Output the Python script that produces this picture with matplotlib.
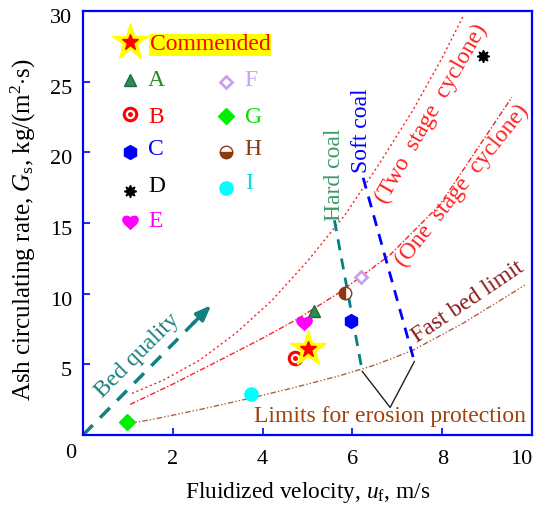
import numpy as np
import matplotlib
matplotlib.use('Agg')
import matplotlib.pyplot as plt
from matplotlib.path import Path
from matplotlib.transforms import ScaledTranslation

plt.rcParams['font.family'] = ['Liberation Serif', 'DejaVu Serif']
plt.rcParams['mathtext.fontset'] = 'custom'
plt.rcParams['mathtext.rm'] = 'Liberation Serif'
plt.rcParams['mathtext.it'] = 'Liberation Serif:italic'

# Operating points (fluidized velocity, m/s ; ash circulating rate, kg/(m2 s))
commended = (5.0, 6.1)
pts_names = ['A', 'B', 'C', 'D', 'E', 'F', 'G', 'H', 'I']
pts_x = [5.15, 4.72, 5.97, 8.91, 4.92, 6.19, 0.98, 5.84, 3.74]
pts_y = [8.8, 5.45, 8.05, 26.8, 7.9, 11.17, 0.95, 10.03, 2.87]

# Boundary curves
two_x = [1.09, 1.8, 2.6, 3.4, 4.2, 5.0, 5.84, 6.6, 7.35, 8.0, 8.46]
two_y = [2.94, 3.9, 5.3, 7.2, 9.5, 12.3, 15.6, 19.2, 23.0, 26.7, 29.6]
one_x = [1.05, 2.0, 3.05, 4.0, 4.77, 5.72, 6.84, 7.95, 9.55]
one_y = [2.16, 3.6, 5.3, 6.85, 8.2, 10.1, 12.75, 16.3, 23.9]
fast_x = [1.0, 1.54, 2.6, 3.72, 4.7, 5.72, 6.5, 7.35, 8.46, 9.84]
fast_y = [0.8, 1.1, 1.8, 2.6, 3.35, 4.2, 4.95, 6.0, 7.9, 10.6]
hard_x = [5.6, 6.22]
hard_y = [15.2, 4.5]
soft_x = [6.24, 7.38]
soft_y = [18.2, 5.2]
vee_x = [6.22, 6.84, 7.38]
vee_y = [4.5, 1.95, 5.2]
arrow_start = (0.0, 0.0)
arrow_end = (2.9, 9.33)

heart = Path([(0, -0.9), (-0.2, -0.6), (-1, -0.2), (-1, 0.35),
              (-1, 0.8), (-0.5, 1.0), (0, 0.6),
              (0.5, 1.0), (1, 0.8), (1, 0.35),
              (1, -0.2), (0.2, -0.6), (0, -0.9), (0, -0.9)],
             [Path.MOVETO] + [Path.CURVE4] * 12 + [Path.CLOSEPOLY])

fig = plt.figure(figsize=(5.4, 5.08), dpi=100)
ax = fig.add_axes([0.1537, 0.1437, 0.8315, 0.8345])
ax.set_xlim(0, 10)
ax.set_ylim(0, 30)

for s in ax.spines.values():
    s.set_color('#0000ff')
    s.set_linewidth(1.6)
ax.tick_params(direction='in', color='#0000ff', width=1.2, length=5,
               labelsize=16, top=False, right=False)
ax.tick_params(axis='x', pad=11)
ax.tick_params(axis='y', pad=8)
ax.set_xticks([2, 4, 6, 8, 10])
ax.set_yticks([5, 10, 15, 20, 25, 30])
# y labels sit a little below their ticks in the original
shift = ScaledTranslation(0, -3.5 / 72, fig.dpi_scale_trans)
for t in ax.yaxis.get_major_ticks():
    t.label1.set_transform(t.label1.get_transform() + shift)
ax.get_xticklabels()[-1].set_ha('right')
ax.text(-0.27, -1.3, '0', fontsize=16, ha='center', va='center', clip_on=False)

ax.set_xlabel('Fluidized velocity, $u_\\mathrm{f}$, m/s', fontsize=16.8)
ax.xaxis.set_label_coords(0.5, -0.105)
ax.set_ylabel('Ash circulating rate, $G_\\mathrm{s}$, kg/(m$^2$$\\cdot$s)', fontsize=18)
ax.yaxis.set_label_coords(-0.1, 0.485)

# curves
ax.plot(two_x, two_y, color='#ff2020', lw=1.0, ls=(0, (1.5, 2)))
ax.plot(one_x, one_y, color='#ff2020', lw=1.0, ls=(0, (4, 1.5, 1, 1.5)))
ax.plot(fast_x, fast_y, color='#b0603a', lw=1.0, ls=(0, (4, 1.5, 1, 1.5, 1, 1.5)))
ax.plot(hard_x, hard_y, color='#008080', lw=2.0, ls=(0, (4, 3)))
ax.plot(soft_x, soft_y, color='#0000ff', lw=2.0, ls=(0, (4, 3)))
ax.plot(vee_x, vee_y, color='#222222', lw=1.0)

# bed quality arrow
ax.plot([arrow_start[0], arrow_end[0] - 0.25], [arrow_start[1], arrow_end[1] - 0.8],
        color='#138080', lw=2.5, ls=(0, (4, 3)))
ax.annotate('', xy=arrow_end, xytext=(arrow_end[0] - 0.5, arrow_end[1] - 1.6),
            arrowprops=dict(arrowstyle='-|>,head_length=0.9,head_width=0.35',
                            color='#138080', lw=2.5))
ax.text(1.22, 5.64, 'Bed quality', color='#1a8080', fontsize=17, rotation=45,
        ha='center', va='center', rotation_mode='anchor')

# annotations
ax.text(5.61, 18.4, 'Hard coal', color='#3a9a6a', fontsize=17, rotation=90,
        ha='center', va='center')
ax.text(6.21, 21.5, 'Soft coal', color='#0000ff', fontsize=17, rotation=90,
        ha='center', va='center')
ax.text(7.77, 22.7, '(Two  stage  cyclone)', color='#ff2020', fontsize=17,
        rotation=60, ha='center', va='center', rotation_mode='anchor')
ax.text(8.44, 17.6, '(One  stage  cyclone)', color='#ff2020', fontsize=17,
        rotation=51.5, ha='center', va='center', rotation_mode='anchor')
ax.text(8.58, 9.4, 'Fast bed limit', color='#8b1a1a', fontsize=17,
        rotation=34, ha='center', va='center', rotation_mode='anchor')
ax.text(6.83, 1.3, 'Limits for erosion protection', color='#a0400f', fontsize=17,
        ha='center', va='center')

# marker styles
styles = {
    'A': dict(marker='^', ms=9, mfc='#2e8b57', mec='#1d6b3b', color='#228b22'),
    'B': dict(marker='o', ms=9, mfc='white', mec='#ff0000', mew=2.2, color='#ff0000'),
    'C': dict(marker='h', ms=10, mfc='#0000ff', mec='#0000ff', color='#0000ff'),
    'D': dict(marker=(8, 1, 0), ms=9, mfc='black', mec='black', color='black'),
    'E': dict(marker=heart, ms=11, mfc='#ff00ff', mec='#ff00ff', color='#ff00ff'),
    'F': dict(marker='D', ms=6.5, mfc='white', mec='#c8a0f0', mew=2, color='#c8a2f0'),
    'G': dict(marker='D', ms=8, mfc='#00ee00', mec='#00ee00', color='#00dd00'),
    'H': dict(marker='o', ms=9, mfc='#8b3a0f', mec='#8b3a0f', mfcalt='white',
              color='#8b3a0f'),
    'I': dict(marker='o', ms=9.5, mfc='#00ffff', mec='#00ffff', color='#00e0e0'),
}


def draw_point(name, x, y, fill='bottom'):
    st = dict(styles[name])
    col = st.pop('color')
    if name == 'H':
        ax.plot(x, y, ls='none', fillstyle=fill, zorder=5, **st)
    else:
        ax.plot(x, y, ls='none', zorder=5, **st)
    if name == 'B':
        ax.plot(x, y, ls='none', marker='o', ms=2.5, color='#ff0000', zorder=6)
    return col


# data points
for n, x, y in zip(pts_names, pts_x, pts_y):
    draw_point(n, x, y, fill='left')
ax.plot(*commended, ls='none', marker='*', ms=27, color='#ffff00', zorder=6)
ax.plot(*commended, ls='none', marker='*', ms=12, color='#ff0000', zorder=7)

# legend drawn inside the axes
ax.plot(1.05, 27.8, ls='none', marker='*', ms=28, color='#ffff00', zorder=6)
ax.plot(1.05, 27.8, ls='none', marker='*', ms=12, color='#ff0000', zorder=7)
ax.text(1.49, 27.6, 'Commended', color='#ff0000', fontsize=17, va='center',
        bbox=dict(facecolor='#ffff00', edgecolor='none', pad=0.5))
leg_mx = [1.05] * 5 + [3.18] * 4
leg_tx = [1.45] * 5 + [3.6] * 4
leg_my = [25.1, 22.7, 20.0, 17.3, 15.1, 25.0, 22.6, 20.0, 17.5]
leg_ty = [25.1, 22.5, 20.2, 17.6, 15.1, 25.1, 22.5, 20.2, 17.8]
for n, mx, tx, my, ty in zip(pts_names, leg_mx, leg_tx, leg_my, leg_ty):
    col = draw_point(n, mx, my, fill='bottom')
    ax.text(tx, ty, n, color=col, fontsize=17, va='center', ha='left')

fig.savefig('out.png', dpi=100)
